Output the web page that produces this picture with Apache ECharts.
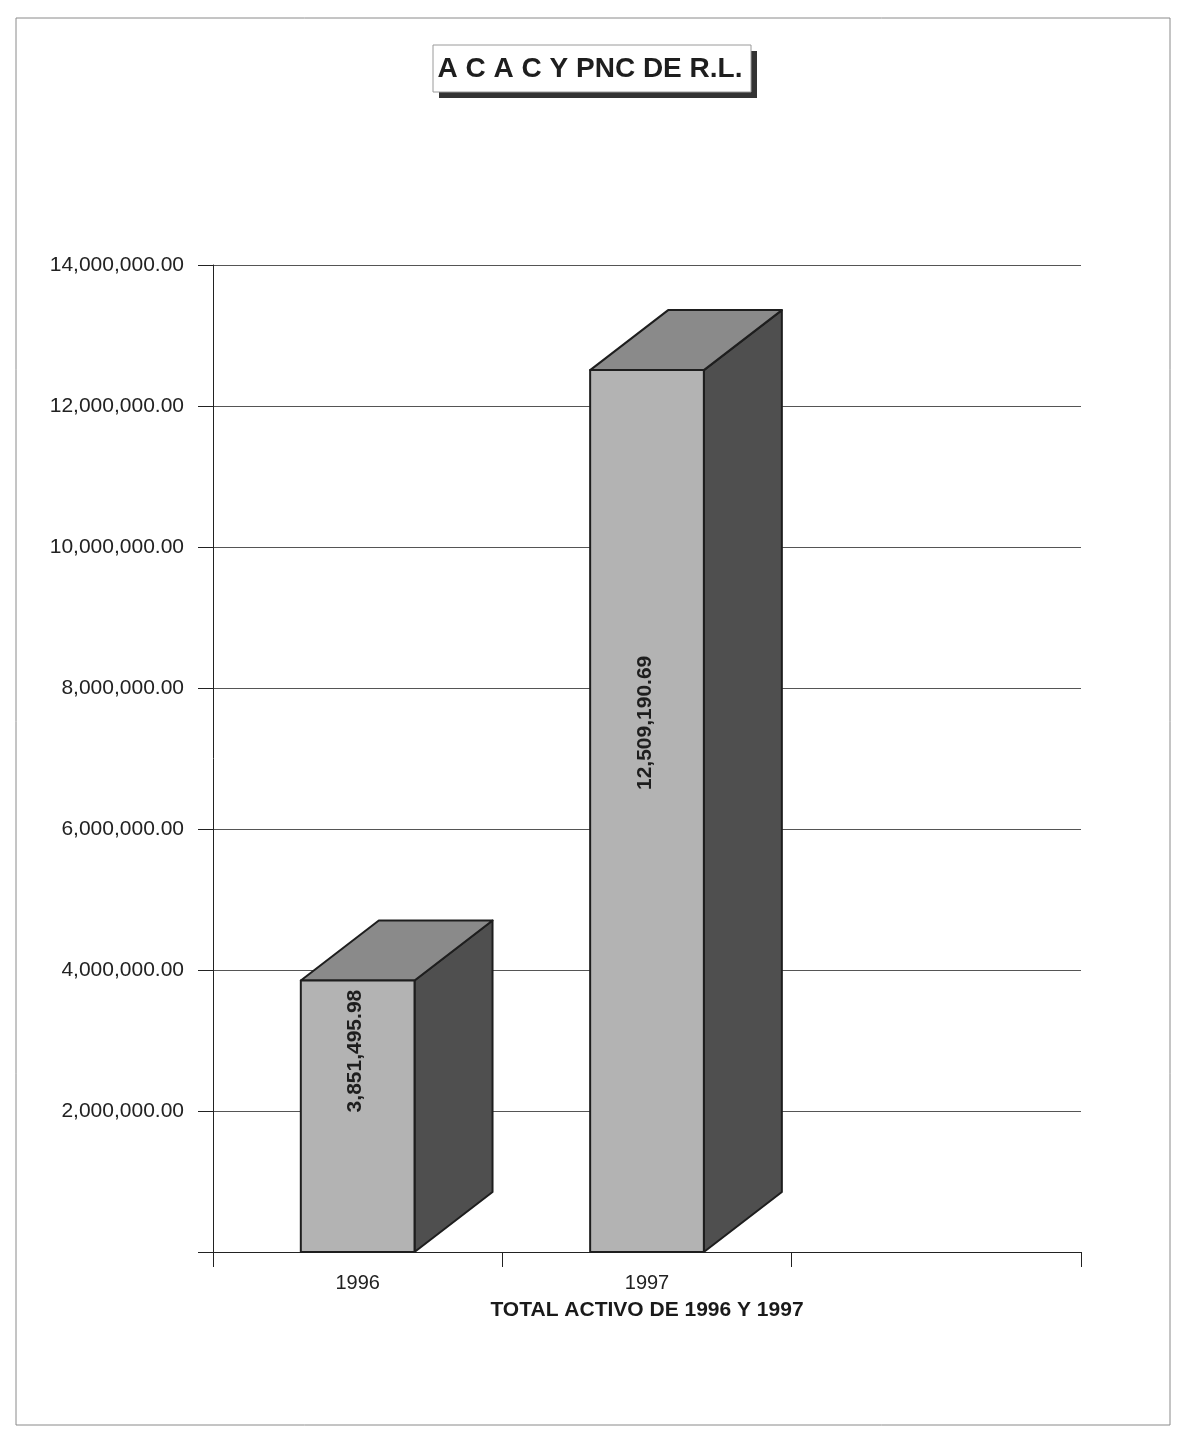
<!DOCTYPE html>
<html>
<head>
<meta charset="utf-8">
<script src="https://cdn.jsdelivr.net/npm/echarts@6/dist/echarts.min.js"></script>
<style>
html,body{margin:0;padding:0;background:#fff;}
#chart{width:1178px;height:1437px;}
</style>
</head>
<body>
<div id="chart"></div>
<script>
// ---- data ----
const titleText = 'A C A C Y PNC DE R.L.';
const xAxisTitle = 'TOTAL ACTIVO DE 1996 Y 1997';
const categories = ['1996', '1997', ''];
const totalActivo = [3851495.98, 12509190.69];
const yTicks = [0, 2000000, 4000000, 6000000, 8000000, 10000000, 12000000, 14000000];

// ---- styles ----
const FONT = '"Liberation Sans", Arial, sans-serif';
const BAR_FRAC = 0.393;      // front face width as a fraction of category width
const DEPTH_DX = 78;         // 3D depth offset (px)
const DEPTH_DY = 60;
const LABEL_FRAC = [0.74, 0.6]; // label centre position along the bar height
const COL_FRONT = '#b3b3b3', COL_TOP = '#8a8a8a', COL_SIDE = '#4f4f4f', COL_EDGE = '#1e1e1e';

function fmt(v) {
  const parts = v.toFixed(2).split('.');
  parts[0] = parts[0].replace(/\B(?=(\d{3})+(?!\d))/g, ',');
  return parts.join('.');
}

const chart = echarts.init(document.getElementById('chart'), null, {renderer: 'canvas'});

const option = {
  backgroundColor: '#ffffff',
  animation: false,
  grid: {left: 213, right: 97, top: 265, bottom: 185, containLabel: false},
  xAxis: {
    type: 'category',
    data: categories,
    boundaryGap: true,
    axisLine: {show: true, lineStyle: {color: '#222', width: 1}},
    axisTick: {show: true, length: 15, alignWithLabel: false, lineStyle: {color: '#222'}},
    axisLabel: {color: '#222', fontFamily: FONT, fontSize: 20, margin: 21},
    name: xAxisTitle,
    nameLocation: 'middle',
    nameGap: 48,
    nameTextStyle: {color: '#1a1a1a', fontFamily: FONT, fontSize: 21, fontWeight: 'bold', verticalAlign: 'top'}
  },
  yAxis: {
    type: 'value',
    min: yTicks[0],
    max: yTicks[yTicks.length - 1],
    interval: yTicks[1] - yTicks[0],
    axisLine: {show: true, lineStyle: {color: '#222', width: 1}},
    axisTick: {show: true, length: 15, lineStyle: {color: '#222'}},
    axisLabel: {
      color: '#222', fontFamily: FONT, fontSize: 21, margin: 29,
      formatter: v => (v === 0 ? '' : fmt(v))
    },
    splitLine: {show: true, lineStyle: {color: '#555', width: 1}}
  },
  series: [{
    type: 'custom',
    data: totalActivo.map((v, i) => [i, v]),
    encode: {x: 0, y: 1},
    renderItem: function (params, api) {
      const idx = api.value(0);
      const val = api.value(1);
      const top = api.coord([idx, val]);
      const base = api.coord([idx, 0]);
      const catW = api.size([1, 0])[0];
      const w = catW * BAR_FRAC;
      const x0 = top[0] - w / 2, x1 = top[0] + w / 2;
      const yT = top[1], yB = base[1];
      const dx = DEPTH_DX, dy = DEPTH_DY;
      const edge = {stroke: COL_EDGE, lineWidth: 2, lineJoin: 'round'};
      const labelY = yB - (yB - yT) * LABEL_FRAC[params.dataIndex];
      return {
        type: 'group',
        children: [
          {type: 'polygon', shape: {points: [[x1, yT], [x1 + dx, yT - dy], [x1 + dx, yB - dy], [x1, yB]]},
            style: Object.assign({fill: COL_SIDE}, edge)},
          {type: 'polygon', shape: {points: [[x0, yT], [x0 + dx, yT - dy], [x1 + dx, yT - dy], [x1, yT]]},
            style: Object.assign({fill: COL_TOP}, edge)},
          {type: 'rect', shape: {x: x0, y: yT, width: w, height: yB - yT},
            style: Object.assign({fill: COL_FRONT}, edge)},
          {type: 'text', x: (x0 + x1) / 2 - 2, y: labelY, rotation: Math.PI / 2,
            style: {text: fmt(val), fill: '#1e1e1e', font: 'bold 21px ' + FONT, align: 'center', verticalAlign: 'middle'}}
        ]
      };
    }
  }],
  graphic: [
    {type: 'rect', shape: {x: 16, y: 18, width: 1154, height: 1407}, style: {fill: 'none', stroke: '#8a8a8a', lineWidth: 1}, z: -10},
    {type: 'rect', shape: {x: 439, y: 51, width: 318, height: 47}, style: {fill: '#333'}, z: 10},
    {type: 'rect', shape: {x: 433, y: 45, width: 318, height: 47}, style: {fill: '#fff', stroke: '#9a9a9a', lineWidth: 1}, z: 11},
    {type: 'text', x: 590, y: 69, z: 12,
      style: {text: titleText, fill: '#1e1e1e', font: 'bold 28px ' + FONT, align: 'center', verticalAlign: 'middle'}}
  ]
};

chart.setOption(option);
</script>
</body>
</html>
